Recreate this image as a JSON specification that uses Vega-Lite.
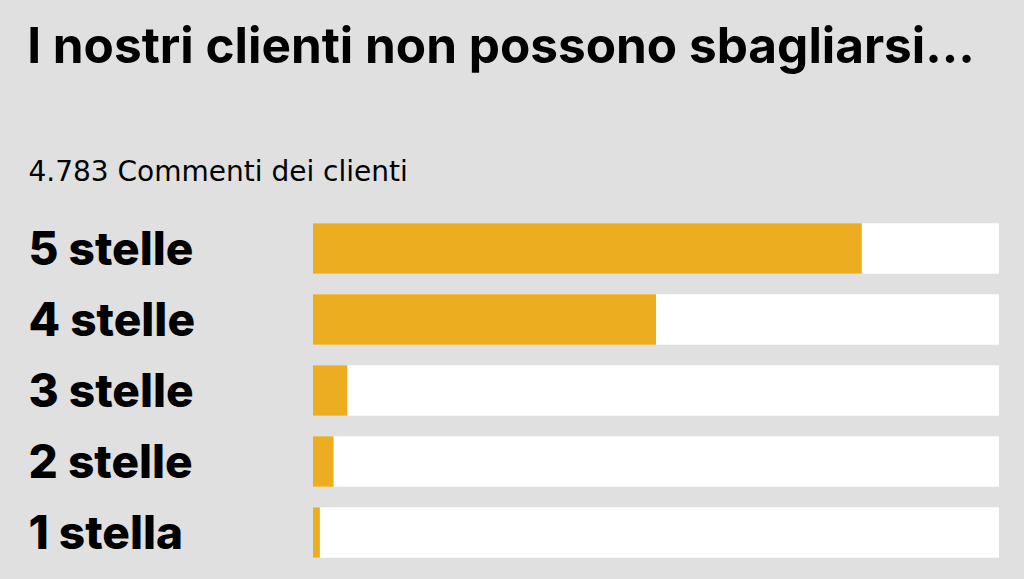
{
  "$schema": "https://vega.github.io/schema/vega-lite/v6.json",
  "width": 686,
  "height": 355,
  "autosize": {"type": "none"},
  "padding": {"left": 313, "top": 213, "right": 25, "bottom": 11},
  "background": "#e0e0e0",
  "config": {"view": {"stroke": null}, "font": "Inter"},
  "title": {
    "text": "I nostri clienti non possono sbagliarsi...",
    "anchor": "middle",
    "frame": "group",
    "dx": -155,
    "fontSize": 49.5,
    "fontWeight": 700,
    "font": "Inter",
    "color": "#000000",
    "offset": 85
  },
  "data": {
    "values": [
      {"label": "5 stelle", "pct": 80},
      {"label": "4 stelle", "pct": 50},
      {"label": "3 stelle", "pct": 5},
      {"label": "2 stelle", "pct": 3},
      {"label": "1 stella", "pct": 1}
    ]
  },
  "encoding": {
    "y": {
      "field": "label",
      "type": "nominal",
      "sort": null,
      "scale": {"paddingInner": 0.29, "paddingOuter": 0.145},
      "axis": {
        "title": null,
        "ticks": false,
        "domain": false,
        "labelAlign": "left",
        "labelPadding": 285,
        "labelOffset": 2,
        "labelFontSize": 46,
        "labelFontWeight": 800,
        "labelFont": "Inter",
        "labelColor": "#000000",
        "labelLimit": 300
      }
    }
  },
  "layer": [
    {
      "mark": {"type": "bar", "color": "#ffffff"},
      "encoding": {"x": {"datum": 100, "type": "quantitative"}, "x2": {"datum": 0}}
    },
    {
      "mark": {"type": "bar", "color": "#ecae20"},
      "encoding": {
        "x": {
          "field": "pct",
          "type": "quantitative",
          "scale": {"domain": [0, 100], "nice": false},
          "axis": {
            "orient": "top",
            "title": "4.783 Commenti dei clienti",
            "titleFont": "DejaVu Sans",
            "titleFontSize": 28,
            "titleFontWeight": 400,
            "titleColor": "#000000",
            "titleAlign": "left",
            "titleBaseline": "alphabetic",
            "titleX": -285,
            "titleY": -33,
            "labels": false,
            "ticks": false,
            "domain": false,
            "grid": false
          }
        }
      }
    }
  ]
}
